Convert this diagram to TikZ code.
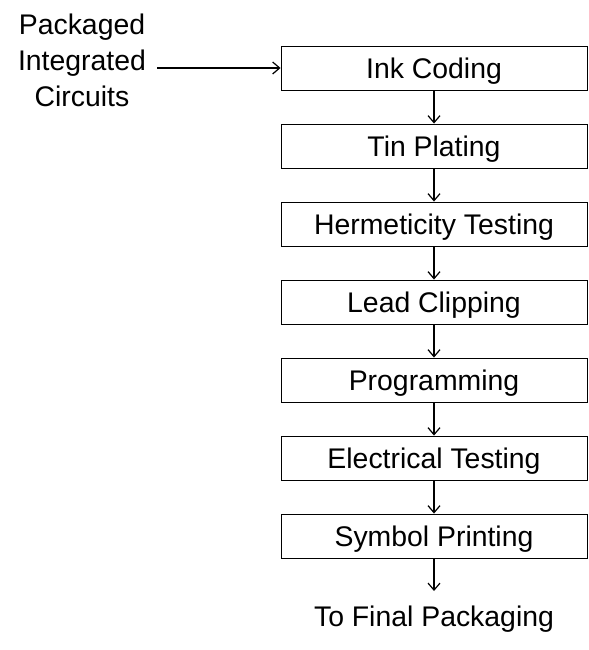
\documentclass[tikz,border=0pt]{standalone}
\usepackage{fontspec}
\setmainfont{Liberation Sans}
\usetikzlibrary{arrows.meta}
\begin{document}
\begin{tikzpicture}[x=1bp,y=-1bp,
  stepbox/.style={draw=black,line width=0.9bp,minimum width=306bp,minimum height=44bp,inner sep=0pt,
    font=\fontsize{28.5}{32}\selectfont,text height=20.4bp,text depth=0pt},
  lbl/.style={font=\fontsize{28.5}{36}\selectfont,inner sep=0pt},
  conn/.style={line width=1.2bp,-{Straight Barb[length=7bp,width=12bp,line width=1.2bp]}}]
\useasboundingbox (0,0) rectangle (589,650);
\node[stepbox] (s1) at (434,68) {Ink Coding};
\node[stepbox] (s2) at (434,146) {Tin Plating};
\node[stepbox] (s3) at (434,224) {Hermeticity Testing};
\node[stepbox] (s4) at (434,302) {Lead Clipping};
\node[stepbox] (s5) at (434,380) {Programming};
\node[stepbox] (s6) at (434,458) {Electrical Testing};
\node[stepbox] (s7) at (434,536) {Symbol Printing};
\node[lbl,anchor=base] (fin) at (434,626) {To Final Packaging};
\coordinate (finend) at (434,591);
\node[lbl,align=center,anchor=north] (src) at (82,14) {Packaged\\Integrated\\Circuits};
\coordinate (srcend) at (157,68);
\draw[conn] (srcend) -- (s1.west);
\draw[conn] (s1) -- (s2);
\draw[conn] (s2) -- (s3);
\draw[conn] (s3) -- (s4);
\draw[conn] (s4) -- (s5);
\draw[conn] (s5) -- (s6);
\draw[conn] (s6) -- (s7);
\draw[conn] (s7) -- (finend);
\end{tikzpicture}
\end{document}
